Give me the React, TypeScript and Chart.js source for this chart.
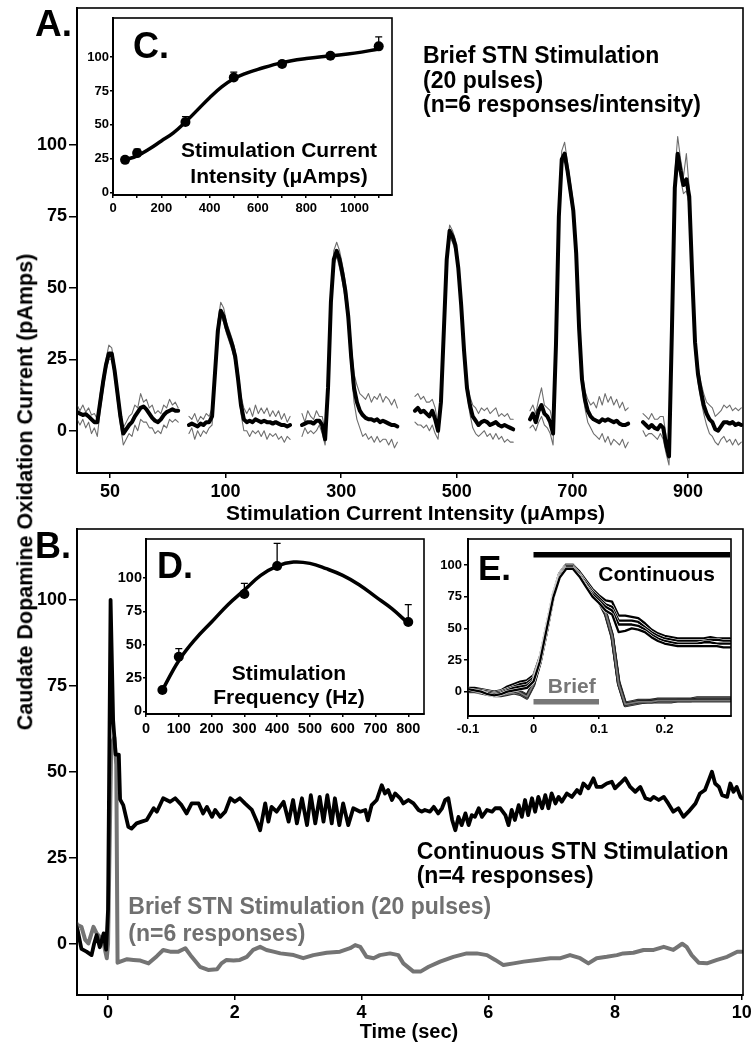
import React, { useEffect, useRef } from 'react';
import { Chart, registerables } from 'chart.js';
Chart.register(...registerables);

const FONT = '"Liberation Sans", Arial, Helvetica, sans-serif';
const GRAY = '#6e6e6e';

// ---------------- Panel A: brief stimulation at six intensities ----------------
const A_TICK_LABELS = ['50', '100', '300', '500', '700', '900'];
const A_TICK_POS = [0, 1, 2, 3, 4, 5];
const A_Y_TICKS = [0, 25, 50, 75, 100];
const A_TRACE_START = [-0.285, 0.683, 1.661, 2.638, 3.633, 4.611];
const A_STEP = 0.025;

const A_MEAN_50 = [6.5, 6, 5.5, 5.8, 5, 4, 3, 3, 10, 17, 23, 27, 27, 21, 13, 5, -1, 0.5, 2, 3, 5, 6.5, 8, 8.5, 7.5, 6, 4.5, 3.5, 3, 4, 5.5, 6.5, 7, 7.5, 7, 7];
const A_UP_50 = [9, 7, 9, 6.5, 8, 5.5, 6, 4, 13, 19, 25, 30, 29, 23, 15, 7, 1, 3, 5, 6, 9, 8, 13, 10, 11, 8, 9, 6, 7, 6, 9, 8, 11, 9, 10, 8];
const A_LO_50 = [4, 2, 4, 1, 3, -1, 1, -2, 7, 14, 21, 25, 25, 19, 10, 2, -5, -3, -1, -2, 2, 0, 4, 3, 3, 1, 1, -1, 0, -1, 2, 1, 4, 3, 4, 3];

const A_MEAN_100 = [2, 2.5, 2, 1.5, 2.5, 2, 3, 3, 5, 20, 35, 42, 40, 36, 33, 30, 26, 18, 9, 4, 3, 3.5, 3, 4, 3.5, 3, 3.5, 3, 3, 2.5, 3, 2.5, 2, 2, 1.5, 2];
const A_UP_100 = [5, 4, 6, 3, 5, 4, 6, 5, 8, 23, 38, 45, 43, 38, 35, 32, 28, 21, 12, 8, 6, 8, 5, 9, 6, 8, 6, 8, 5, 7, 5, 7, 4, 6, 3, 5];
const A_LO_100 = [-1, 1, -3, 0, -2, 0, -1, 1, 2, 17, 32, 40, 38, 34, 31, 28, 24, 16, 6, 0, 0, -2, 0, -1, 0, -2, 0, -3, -1, -2, -1, -3, -2, -4, -2, -3];

const A_MEAN_300 = [2, 2.5, 3, 3, 2.5, 3.5, 3.5, 2, -3, 15, 45, 60, 63, 60, 55, 49, 40, 26, 15, 10, 7, 5.5, 4.5, 4, 4, 3.5, 4, 3, 3.5, 3, 2.5, 2, 2, 1.5];
const A_UP_300 = [6, 3, 7, 5, 4, 7, 5, 5, 0, 18, 48, 63, 66, 63, 58, 52, 43, 30, 20, 16, 13, 12, 11, 13, 10, 12, 11, 13, 10, 12, 11, 9, 11, 8];
const A_LO_300 = [-2, 1, -1, 0, -1, 0, 2, -1, -5, 12, 42, 58, 61, 57, 52, 46, 37, 22, 10, 4, 1, -2, -1, -3, -2, -4, -2, -4, -3, -3, -5, -3, -6, -4];

const A_MEAN_500 = [7, 8, 6.5, 7, 6, 5, 7, 4, 0, 10, 35, 60, 70, 68, 65, 57, 44, 28, 15, 9, 5, 3.5, 2, 3, 3.5, 3, 2, 2.5, 3, 2, 1.5, 2, 1.5, 1, 0.5];
const A_UP_500 = [12, 13, 11, 12, 10, 10, 11, 8, 2, 12, 37, 63, 72, 70, 67, 59, 46, 30, 17, 12, 9, 8, 6, 8, 7, 8, 6, 7, 8, 5, 6, 5, 6, 4, 4];
const A_LO_500 = [3, 2, 2, 1, 2, 0, 2, -1, -3, 8, 33, 58, 68, 66, 63, 55, 42, 26, 13, 6, 1, -1, -2, -1, 0, -2, -1, -3, -1, -3, -2, -4, -3, -4, -4];

const A_MEAN_700 = [4, 6, 3, 7, 9, 6, 5, 3, -1, 30, 75, 95, 97, 91, 84, 77, 62, 36, 18, 11, 7, 5, 4, 3.5, 3, 4, 3.5, 4, 3.5, 3, 3.5, 2.5, 2, 2, 2.5];
const A_UP_700 = [7, 9, 6, 11, 15, 9, 8, 7, 2, 33, 78, 98, 101, 94, 87, 80, 65, 39, 21, 14, 11, 9, 10, 8, 12, 9, 13, 10, 12, 9, 11, 8, 10, 7, 8];
const A_LO_700 = [1, 2, 0, 3, 5, 2, 1, -1, -5, 27, 72, 93, 95, 89, 82, 75, 60, 34, 15, 8, 3, 1, -1, -2, -3, -1, -4, -2, -5, -3, -4, -5, -3, -6, -4];

const A_MEAN_900 = [3, 2, 1, 2, 1, 0.5, 2, 1, -5, -9, 35, 85, 97, 91, 86, 88, 82, 55, 31, 20, 14, 9, 6, 4, 3, 0.5, 0, 1.5, 3, 3, 2.5, 3, 2, 2.5, 2];
const A_UP_900 = [6, 5, 4, 6, 4, 4, 5, 5, -2, -7, 38, 90, 103, 95, 89, 97, 85, 58, 34, 23, 17, 13, 10, 9, 8, 5, 6, 7, 9, 8, 9, 7, 8, 7, 8];
const A_LO_900 = [0, -2, -1, -1, -2, -3, -1, -3, -8, -12, 32, 82, 95, 88, 83, 84, 79, 52, 28, 17, 11, 6, 2, -1, -2, -4, -5, -3, -2, -4, -3, -5, -3, -5, -4];

const A_MEANS = [A_MEAN_50, A_MEAN_100, A_MEAN_300, A_MEAN_500, A_MEAN_700, A_MEAN_900];
const A_UPS = [A_UP_50, A_UP_100, A_UP_300, A_UP_500, A_UP_700, A_UP_900];
const A_LOS = [A_LO_50, A_LO_100, A_LO_300, A_LO_500, A_LO_700, A_LO_900];

// ---------------- Inset C: intensity-response ----------------
const C_X = [50, 100, 300, 500, 700, 900, 1100];
const C_Y = [24, 29, 52, 85, 95, 101, 108];
const C_ERR = [25, 32, 56, 89, 97, 103, 115];
const C_FIT_X = [50, 100, 150, 200, 250, 300, 350, 400, 450, 500, 550, 600, 700, 800, 900, 1000, 1100];
const C_FIT_Y = [24, 27, 32, 38, 44, 52, 61, 70, 78, 84, 88, 91, 96, 99, 101, 103, 106];
const C_X_TICKS = [0, 100, 200, 300, 400, 500, 600, 700, 800, 900, 1000, 1100];
const C_X_LABELS = ['0', '', '200', '', '400', '', '600', '', '800', '', '1000', ''];
const INSET_Y_TICKS = [0, 25, 50, 75, 100];

// ---------------- Panel B: continuous vs brief ----------------
const B_X_TICKS = [0, 2, 4, 6, 8, 10];
const B_Y_TICKS = [0, 25, 50, 75, 100];
const B_CONT_T = [-0.5, -0.48, -0.42, -0.34, -0.26, -0.22, -0.18, -0.13, -0.07, -0.03, 0.0, 0.04, 0.08, 0.12, 0.17, 0.19, 0.24, 0.32, 0.37, 0.45, 0.53, 0.61, 0.72, 0.77, 0.87, 0.98, 1.06, 1.16, 1.24, 1.32, 1.43, 1.5, 1.56, 1.64, 1.69, 1.77, 1.85, 1.93, 2.0, 2.08, 2.16, 2.27, 2.35, 2.4, 2.48, 2.53, 2.58, 2.66, 2.77, 2.85, 2.92, 2.98, 3.06, 3.14, 3.2, 3.27, 3.34, 3.4, 3.46, 3.53, 3.58, 3.65, 3.71, 3.79, 3.87, 3.98, 4.06, 4.1, 4.16, 4.24, 4.32, 4.37, 4.42, 4.48, 4.53, 4.61, 4.66, 4.74, 4.82, 4.9, 4.95, 5.0, 5.08, 5.14, 5.21, 5.27, 5.32, 5.37, 5.43, 5.48, 5.53, 5.58, 5.64, 5.69, 5.74, 5.79, 5.85, 5.9, 5.98, 6.06, 6.11, 6.19, 6.27, 6.32, 6.37, 6.42, 6.48, 6.53, 6.58, 6.63, 6.69, 6.74, 6.79, 6.85, 6.9, 6.95, 7.0, 7.06, 7.11, 7.16, 7.24, 7.32, 7.4, 7.45, 7.5, 7.58, 7.66, 7.71, 7.79, 7.87, 7.95, 8.0, 8.08, 8.16, 8.24, 8.32, 8.4, 8.48, 8.56, 8.61, 8.69, 8.77, 8.84, 8.92, 9.0, 9.08, 9.16, 9.27, 9.34, 9.42, 9.48, 9.53, 9.58, 9.64, 9.69, 9.77, 9.82, 9.87, 9.92, 9.98, 10.0];
const B_CONT_V = [5, 4, -1.5, -2.3, -3.3, 0, 2.5, -1, 3, -1.7, 10, 100, 65, 55, 55, 42, 40.3, 34, 33.5, 35, 35.5, 36, 39.4, 38.4, 42.3, 41.3, 42.3, 40.3, 37.9, 40.8, 40.8, 37.9, 39.8, 36.9, 38.9, 36.9, 38.4, 42.3, 41.3, 42.3, 40.8, 38.9, 35.5, 33, 40.8, 35.5, 39.8, 38.4, 41.3, 35.5, 41.8, 35, 42.3, 34.5, 43.2, 35, 42.7, 35.5, 43.2, 35, 42.3, 34.5, 40.8, 34.5, 39.4, 38.4, 38.9, 35.9, 40.3, 41.8, 46.1, 43.7, 44.7, 41.8, 43.7, 42.3, 40.8, 41.8, 40.8, 38.9, 38.4, 38.9, 38.4, 39.8, 37.9, 39.4, 41.8, 42.3, 36, 33, 36.9, 34.5, 37.9, 34.5, 37.4, 36.9, 39.4, 36.9, 38.9, 38.4, 39.4, 39.4, 37.4, 34.5, 38.9, 36, 40.3, 36.9, 41.8, 37.4, 42.3, 38.4, 42.7, 39.4, 43.2, 39.4, 43.7, 40.8, 42.7, 41.3, 43.7, 42.7, 44.7, 43.7, 46.6, 45.2, 48.1, 45.6, 45.6, 46.6, 47.1, 45.2, 46.6, 48.1, 45.6, 44.2, 45.6, 42.3, 41.8, 42.7, 41.8, 42.7, 40.8, 38.4, 39.4, 36.9, 38.4, 40.8, 43.7, 44.7, 47.6, 50, 46.6, 45.6, 43.2, 42.7, 46.6, 44.2, 45.6, 42.7, 42.3];
const B_BRIEF_T = [-0.5, -0.48, -0.42, -0.36, -0.31, -0.23, -0.18, -0.13, -0.07, -0.02, 0.0, 0.05, 0.1, 0.13, 0.15, 0.3, 0.4, 0.51, 0.64, 0.77, 0.87, 0.98, 1.11, 1.22, 1.32, 1.45, 1.58, 1.72, 1.79, 1.87, 1.98, 2.08, 2.19, 2.29, 2.4, 2.5, 2.61, 2.72, 2.93, 3.08, 3.24, 3.45, 3.66, 3.82, 3.9, 3.98, 4.08, 4.19, 4.29, 4.45, 4.58, 4.66, 4.82, 4.93, 5.06, 5.24, 5.45, 5.66, 5.82, 5.98, 6.11, 6.24, 6.4, 6.56, 6.77, 6.98, 7.14, 7.29, 7.45, 7.58, 7.71, 7.87, 8.03, 8.13, 8.29, 8.45, 8.61, 8.77, 8.92, 9.06, 9.13, 9.21, 9.32, 9.45, 9.61, 9.77, 9.93, 10.0];
const B_BRIEF_V = [6, 5.4, 4.9, 1.1, 0.1, 4.9, 3, 2, 0.1, -4.2, 0, 58, 60, 52, -5.5, -4.5, -4.7, -4.9, -5.7, -3.6, -1.8, -2.3, -2.3, -1.3, -3.8, -6.7, -7.6, -7.4, -5.7, -4.7, -4.9, -4.7, -3.8, -1.8, -0.9, -1.8, -2.3, -2.8, -3.3, -4.2, -3.3, -2.6, -2.3, -1.3, -0.4, -0.9, -3.8, -4.2, -3.3, -2.8, -3.3, -5.7, -8.1, -8.1, -6.7, -5.2, -3.8, -2.8, -2.8, -3.3, -4.7, -6.2, -5.7, -5.2, -4.7, -4.2, -4.2, -3.3, -4.2, -5.7, -4.2, -3.8, -3.3, -2.8, -2.6, -1.8, -1.8, -0.9, -1.8, 0, -0.9, -3.3, -5.5, -5.7, -4.7, -3.8, -2.3, -2.3];

// ---------------- Inset D: frequency-response ----------------
const D_X = [50, 100, 300, 400, 800];
const D_Y = [16, 41, 88, 109, 67];
const D_ERR = [16, 47, 96, 126, 80];
const D_FIT_X = [50, 100, 150, 200, 250, 300, 350, 400, 450, 500, 550, 600, 650, 700, 750, 800];
const D_FIT_Y = [16, 38, 54, 67, 80, 91, 102, 109, 112, 111, 107, 102, 95, 86, 77, 66];
const D_X_TICKS = [0, 100, 200, 300, 400, 500, 600, 700, 800];

// ---------------- Inset E: onset detail ----------------
const E_T0 = -0.1;
const E_DT = 0.01;
const E_X_TICKS = [-0.1, 0, 0.1, 0.2];
const E_CONT_1 = [3, 3, 2, 1, 0, 1, 4, 6, 8, 9, 13, 28, 53, 77, 93, 100, 100, 95, 88, 81, 76, 72, 71, 60, 60, 59, 58, 54, 49, 46, 44, 43, 42, 42, 42, 42, 42, 43, 42, 42, 42];
const E_CONT_2 = [1, 1, 1, 0, -1, 0, 2, 4, 6, 7, 11, 26, 51, 76, 92, 99, 99, 93, 86, 79, 74, 69, 67, 56, 56, 56, 55, 51, 47, 44, 42, 41, 40, 40, 40, 40, 40, 41, 41, 40, 40];
const E_CONT_3 = [0, 0, 0, -1, -2, -1, 1, 3, 4, 5, 9, 25, 50, 75, 91, 98, 98, 92, 84, 77, 72, 67, 64, 53, 53, 53, 52, 49, 45, 42, 40, 39, 38, 38, 38, 38, 39, 39, 38, 38, 38];
const E_CONT_4 = [2, 1, 0, -2, -3, -2, 0, 1, 2, 3, 8, 24, 49, 74, 90, 97, 97, 91, 83, 75, 70, 64, 61, 47, 48, 50, 49, 47, 43, 40, 38, 37, 36, 36, 36, 36, 36, 36, 36, 35, 35];
const E_BRIEF_1 = [2, 2, 1, 0, -1, -1, 0, 1, 0, -3, 7, 25, 50, 76, 93, 100, 100, 94, 86, 79, 73, 63, 45, 8, -9, -8, -7, -7, -7, -6, -6, -6, -6, -6, -6, -5, -5, -5, -5, -5, -5];
const E_BRIEF_2 = [1, 1, 0, -1, -2, -2, -1, 0, -1, -4, 6, 24, 49, 75, 92, 99, 99, 93, 85, 78, 72, 62, 44, 7, -10, -9, -8, -8, -7, -7, -7, -7, -7, -7, -7, -6, -6, -6, -6, -6, -6];
const E_BRIEF_3 = [0, 0, -1, -2, -3, -3, -2, -1, -2, -5, 5, 23, 48, 75, 92, 99, 99, 93, 85, 78, 71, 61, 43, 6, -11, -10, -9, -8, -8, -8, -8, -8, -7, -7, -7, -7, -7, -7, -7, -7, -7];
const E_BRIEF_4 = [1, 1, 0, 0, -1, -2, 0, 1, -1, -4, 6, 24, 49, 76, 93, 100, 99, 93, 85, 78, 72, 62, 44, 6, -10, -9, -8, -8, -8, -7, -7, -7, -7, -7, -7, -7, -7, -7, -7, -7, -7];
const E_CONT = [E_CONT_1, E_CONT_2, E_CONT_3, E_CONT_4];
const E_BRIEF = [E_BRIEF_1, E_BRIEF_2, E_BRIEF_3, E_BRIEF_4];
const E_BAR_START = [0, 0];
const E_BAR_END = [0.3, 0.1];
const E_BAR_LEVEL = [108, -8];

// ---------------- helpers ----------------
type Area = { l: number; t: number; r: number; b: number; L: number; T: number; R: number; B: number };

function axis(o: { horizontal: boolean; min: number; max: number; ticks: number[]; label: (v: number, i: number) => string; size: number; tl: number; pad: number; fit: number }) {
  return {
    type: 'linear',
    min: o.min,
    max: o.max,
    afterBuildTicks: (s: any) => {
      s.ticks = o.ticks.map((v) => ({ value: v }));
    },
    afterFit: (s: any) => {
      if (o.horizontal) s.height = o.fit;
      else s.width = o.fit;
      s.paddingLeft = 0;
      s.paddingRight = 0;
      s.paddingTop = 0;
      s.paddingBottom = 0;
    },
    grid: { drawOnChartArea: false, drawTicks: true, tickLength: o.tl, color: '#000', lineWidth: 1.5 },
    border: { display: true, color: '#000', width: 2 },
    ticks: {
      autoSkip: false,
      maxRotation: 0,
      minRotation: 0,
      padding: o.pad,
      color: '#000',
      font: { family: FONT, size: o.size, weight: 'bold' },
      callback: (v: any, i: number) => o.label(Number(v), i),
    },
  };
}

function framePlugin(fill: boolean, width: number) {
  return {
    id: 'frame',
    beforeDraw(chart: any) {
      if (!fill) return;
      const { ctx, chartArea: a } = chart;
      ctx.save();
      ctx.fillStyle = '#fff';
      ctx.fillRect(a.left, a.top, a.right - a.left, a.bottom - a.top);
      ctx.restore();
    },
    afterDraw(chart: any) {
      const { ctx, chartArea: a } = chart;
      ctx.save();
      ctx.strokeStyle = '#000';
      ctx.lineWidth = width;
      ctx.strokeRect(a.left, a.top, a.right - a.left, a.bottom - a.top);
      ctx.restore();
    },
  };
}

function errPlugin(xs: number[], ys: number[], es: number[]) {
  return {
    id: 'errbars',
    beforeDatasetsDraw(chart: any) {
      const { ctx } = chart;
      const sx = chart.scales.x;
      const sy = chart.scales.y;
      ctx.save();
      ctx.strokeStyle = '#000';
      ctx.lineWidth = 1.3;
      xs.forEach((xv, i) => {
        if (es[i] <= ys[i]) return;
        const px = sx.getPixelForValue(xv);
        const p0 = sy.getPixelForValue(ys[i]);
        const p1 = sy.getPixelForValue(es[i]);
        ctx.beginPath();
        ctx.moveTo(px, p0);
        ctx.lineTo(px, p1);
        ctx.moveTo(px - 3.5, p1);
        ctx.lineTo(px + 3.5, p1);
        ctx.stroke();
      });
      ctx.restore();
    },
  };
}

// datasets are listed in painting order (first = bottom); Chart.js paints the first dataset last, so reverse
function makeConfig(area: Area, x: any, y: any, datasets: any[], plugins: any[]) {
  return {
    type: 'line',
    data: { datasets: datasets.slice().reverse() },
    options: {
      responsive: false,
      animation: false,
      devicePixelRatio: 1,
      events: [],
      layout: { padding: { top: area.T, right: area.R, left: 0, bottom: 0 } },
      plugins: { legend: { display: false }, tooltip: { enabled: false }, title: { display: false } },
      scales: { x, y },
      elements: { point: { radius: 0 }, line: { tension: 0 } },
    },
    plugins,
  };
}

function line(data: any[], color: string, width: number, extra: any = {}) {
  return { data, borderColor: color, backgroundColor: color, borderWidth: width, pointRadius: 0, fill: false, tension: 0, borderJoinStyle: 'round', borderCapStyle: 'round', ...extra };
}

function ChartCanvas({ area, build }: { area: Area; build: () => any }) {
  const ref = useRef<HTMLCanvasElement>(null);
  useEffect(() => {
    const chart = new Chart(ref.current as HTMLCanvasElement, build());
    return () => chart.destroy();
  }, []);
  const left = area.l - area.L;
  const top = area.t - area.T;
  const width = area.r - area.l + area.L + area.R;
  const height = area.b - area.t + area.T + area.B;
  return <canvas ref={ref} width={width} height={height} style={{ position: 'absolute', left, top, width, height }} />;
}

function Label({ x, base, size, color = '#000', align = 'left', children }: any) {
  return (
    <div
      style={{
        position: 'absolute',
        left: x,
        top: base - 0.8465 * size,
        fontFamily: FONT,
        fontWeight: 'bold',
        fontSize: size,
        lineHeight: `${size}px`,
        color,
        whiteSpace: 'pre',
        transform: align === 'center' ? 'translateX(-50%)' : undefined,
      }}
    >
      {children}
    </div>
  );
}

// ---------------- areas (layout) ----------------
const AREA_A: Area = { l: 77, t: 8, r: 743, b: 473, L: 77, T: 8, R: 8, B: 30 };
const AREA_B: Area = { l: 77, t: 529, r: 743, b: 995, L: 77, T: 8, R: 8, B: 30 };
const AREA_C: Area = { l: 113, t: 17, r: 392, b: 195, L: 32, T: 4, R: 6, B: 22 };
const AREA_D: Area = { l: 146, t: 538, r: 424, b: 714, L: 32, T: 4, R: 6, B: 24 };
const AREA_E: Area = { l: 468, t: 539, r: 731, b: 716, L: 32, T: 4, R: 6, B: 24 };

function buildA() {
  const ds: any[] = [];
  A_MEANS.forEach((mean, k) => {
    const pts = (arr: number[]) => arr.map((v, i) => ({ x: A_TRACE_START[k] + i * A_STEP, y: v }));
    ds.push(line(pts(A_UPS[k]), GRAY, 1.1));
    ds.push(line(pts(A_LOS[k]), GRAY, 1.1));
    ds.push(line(pts(mean), '#000', 4));
  });
  return makeConfig(
    AREA_A,
    axis({ horizontal: true, min: -0.2855, max: 5.476, ticks: A_TICK_POS, label: (_v, i) => A_TICK_LABELS[i] ?? '', size: 18, tl: 5, pad: 3, fit: AREA_A.B }),
    axis({ horizontal: false, min: -14.8, max: 148, ticks: A_Y_TICKS, label: (v) => String(v), size: 18, tl: 8, pad: 2, fit: AREA_A.L }),
    ds,
    [framePlugin(false, 1.6)]
  );
}

function buildB() {
  const brief = B_BRIEF_T.map((t, i) => ({ x: t, y: B_BRIEF_V[i] }));
  const cont = B_CONT_T.map((t, i) => ({ x: t, y: B_CONT_V[i] }));
  return makeConfig(
    AREA_B,
    axis({ horizontal: true, min: -0.49, max: 10.02, ticks: B_X_TICKS, label: (v) => String(v), size: 18, tl: 5, pad: 2, fit: AREA_B.B }),
    axis({ horizontal: false, min: -14.9, max: 120.6, ticks: B_Y_TICKS, label: (v) => String(v), size: 18, tl: 8, pad: 2, fit: AREA_B.L }),
    [line(brief, '#747474', 4), line(cont, '#000', 3.8)],
    [framePlugin(false, 1.6)]
  );
}

function buildC() {
  const fit = C_FIT_X.map((x, i) => ({ x, y: C_FIT_Y[i] }));
  const pts = C_X.map((x, i) => ({ x, y: C_Y[i] }));
  return makeConfig(
    AREA_C,
    axis({ horizontal: true, min: 0, max: 1155, ticks: C_X_TICKS, label: (_v, i) => C_X_LABELS[i] ?? '', size: 13, tl: 3, pad: 3, fit: AREA_C.B }),
    axis({ horizontal: false, min: -2, max: 129, ticks: INSET_Y_TICKS, label: (v) => String(v), size: 13, tl: 3, pad: 1, fit: AREA_C.L }),
    [line(fit, '#000', 3.5, { tension: 0.4 }), { data: pts, showLine: false, pointRadius: 5, pointBackgroundColor: '#000', pointBorderWidth: 0, borderColor: '#000' }],
    [framePlugin(true, 1.6), errPlugin(C_X, C_Y, C_ERR)]
  );
}

function buildD() {
  const fit = D_FIT_X.map((x, i) => ({ x, y: D_FIT_Y[i] }));
  const pts = D_X.map((x, i) => ({ x, y: D_Y[i] }));
  return makeConfig(
    AREA_D,
    axis({ horizontal: true, min: 0, max: 848, ticks: D_X_TICKS, label: (v) => String(v), size: 14.5, tl: 3, pad: 3, fit: AREA_D.B }),
    axis({ horizontal: false, min: -2, max: 129.3, ticks: INSET_Y_TICKS, label: (v) => String(v), size: 14.5, tl: 3, pad: 1, fit: AREA_D.L }),
    [line(fit, '#000', 3.5, { tension: 0.4 }), { data: pts, showLine: false, pointRadius: 5, pointBackgroundColor: '#000', pointBorderWidth: 0, borderColor: '#000' }],
    [framePlugin(true, 1.6), errPlugin(D_X, D_Y, D_ERR)]
  );
}

function buildE() {
  const ds: any[] = [];
  const pts = (arr: number[]) => arr.map((v, i) => ({ x: E_T0 + i * E_DT, y: v }));
  E_BRIEF.forEach((arr) => {
    ds.push(line(pts(arr), '#222', 3.4));
    ds.push(line(pts(arr), '#7a7a7a', 1.8));
  });
  E_CONT.forEach((arr) => {
    ds.push(line(pts(arr), '#fff', 3.4));
    ds.push(line(pts(arr), '#000', 2.3));
  });
  E_BAR_START.forEach((s, i) => {
    ds.push(line([{ x: s, y: E_BAR_LEVEL[i] }, { x: E_BAR_END[i], y: E_BAR_LEVEL[i] }], i === 0 ? '#000' : '#777', 5.5, { borderCapStyle: 'butt' }));
  });
  return makeConfig(
    AREA_E,
    axis({ horizontal: true, min: -0.1, max: 0.3015, ticks: E_X_TICKS, label: (v) => String(v), size: 13, tl: 3, pad: 3, fit: AREA_E.B }),
    axis({ horizontal: false, min: -19.2, max: 120.5, ticks: INSET_Y_TICKS, label: (v) => String(v), size: 13, tl: 4, pad: 2, fit: AREA_E.L }),
    ds,
    [framePlugin(true, 1.6)]
  );
}

export default function App() {
  return (
    <div style={{ position: 'absolute', left: 0, top: 0, width: 751, height: 1050, overflow: 'hidden', background: '#fff' }}>
      <ChartCanvas area={AREA_A} build={buildA} />
      <ChartCanvas area={AREA_B} build={buildB} />
      <ChartCanvas area={AREA_C} build={buildC} />
      <ChartCanvas area={AREA_D} build={buildD} />
      <ChartCanvas area={AREA_E} build={buildE} />

      <div
        style={{
          position: 'absolute',
          left: 25.5,
          top: 491.5,
          transform: 'translate(-50%, -50%) rotate(-90deg)',
          fontFamily: FONT,
          fontWeight: 'bold',
          fontSize: 21.5,
          lineHeight: '21.5px',
          whiteSpace: 'pre',
          color: '#000',
        }}
      >
        Caudate Dopamine Oxidation Current (pAmps)
      </div>

      <Label x={35} base={36.5} size={37}>A.</Label>
      <Label x={35} base={558.5} size={36}>B.</Label>
      <Label x={133} base={58.3} size={36}>C.</Label>
      <Label x={157} base={578.3} size={36}>D.</Label>
      <Label x={478} base={579.3} size={35}>E.</Label>

      <Label x={423} base={63.3} size={23}>Brief STN Stimulation</Label>
      <Label x={423} base={88.3} size={23}>(20 pulses)</Label>
      <Label x={423} base={112.7} size={23}>(n=6 responses/intensity)</Label>

      <Label x={279} base={156.7} size={21} align="center">Stimulation Current</Label>
      <Label x={279} base={182.7} size={21} align="center">Intensity (μAmps)</Label>

      <Label x={415.5} base={520} size={21} align="center">Stimulation Current Intensity (μAmps)</Label>

      <Label x={289} base={680} size={21} align="center">Stimulation</Label>
      <Label x={289} base={703.3} size={21} align="center">Frequency (Hz)</Label>

      <Label x={656.7} base={580.7} size={21} align="center">Continuous</Label>
      <Label x={571.8} base={692.7} size={21} align="center" color="#777">Brief</Label>

      <Label x={416.7} base={859.3} size={23}>Continuous STN Stimulation</Label>
      <Label x={416.7} base={883.3} size={23}>(n=4 responses)</Label>

      <Label x={128.3} base={914.3} size={23} color="#707070">Brief STN Stimulation (20 pulses)</Label>
      <Label x={128.3} base={941.7} size={23} color="#707070">(n=6 responses)</Label>

      <Label x={409} base={1038} size={20} align="center">Time (sec)</Label>
    </div>
  );
}
